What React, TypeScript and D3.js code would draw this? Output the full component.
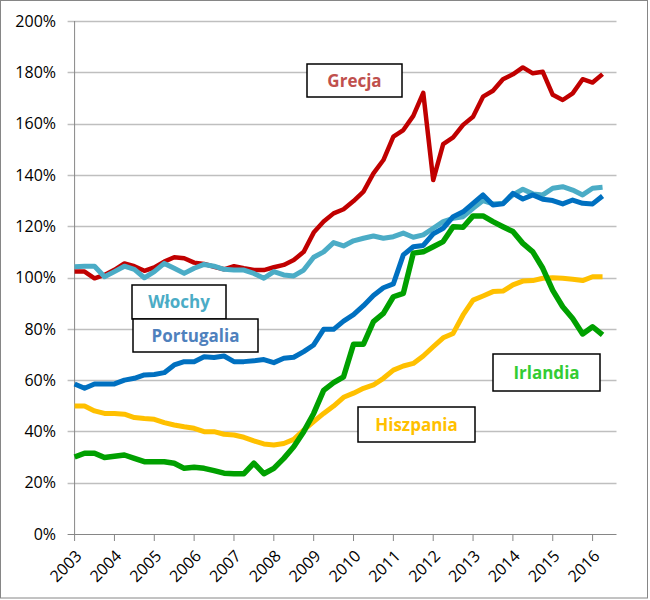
import React, { useEffect, useRef } from 'react';
import * as d3 from 'd3';

// tick labels on the x axis
const yearLabels = [2003, 2004, 2005, 2006, 2007, 2008, 2009, 2010, 2011, 2012, 2013, 2014, 2015, 2016];
const yTicks = [0, 20, 40, 60, 80, 100, 120, 140, 160, 180, 200];

// quarterly values (% of GDP), 2003Q1 .. 2016Q2
const grecja = [
  102.3, 102.3, 99.7, 101, 103, 105.5, 104.4, 102.6, 103.9, 106.2, 107.9, 107.5, 105.8, 105.3, 104.2, 103.2, 104.4,
  103.6, 102.9, 102.9, 104, 104.9, 106.8, 110,
  117.5, 121.8, 125, 126.6, 129.8, 133.5, 140.6, 145.8, 154.9, 157.5, 163, 172,
  138, 152, 154.6, 159.5, 162.7, 170.5, 172.8, 177.3, 179.2, 181.9, 179.6, 180.2, 171.2, 169.2, 171.8, 177.3, 176, 179.3
];
const wlochy = [
  104.2, 104.4, 104.4, 100.3, 102.3, 104.4, 103.2, 99.9, 102.3, 105.5, 103.6, 101.6, 103.6, 105.1, 104.4, 103.2, 102.9,
  102.9, 101.6, 99.7, 102.3, 101, 100.6, 102.9, 107.9, 110, 113.6, 112.3, 114.3, 115.3, 116.2, 115.3, 115.9, 117.3,
  115.7, 116.6, 119.2, 121.8, 123.1, 123.7, 127, 130, 128.7, 128.9, 132.2, 134.4, 132.6, 132.2, 134.8, 135.4, 134.1, 132.2, 134.8, 135.2
];
const portugalia = [
  58.5, 56.8, 58.5, 58.5, 58.5, 60, 60.7, 62, 62.2, 62.9, 65.9, 67.2, 67.2, 69.1, 68.8, 69.4, 67.2,
  67.2, 67.5, 68,
  66.8, 68.5, 68.9, 71.1, 73.7, 79.8, 79.8, 83, 85.5, 89, 93, 96, 97.5, 108.8, 112,
  112.5, 117, 119.2, 123.7, 125.6, 128.9, 132.2, 128.3, 128.7, 132.8, 130.6, 132.2, 130.5, 130, 128.7, 130.2, 128.9, 128.7, 131.8
];
const hiszpania = [
  49.9, 49.9, 48, 47, 47, 46.7, 45.4, 45, 44.7, 43.4, 42.5, 41.8, 41.2, 39.9, 39.9, 38.9, 38.6, 37.7, 36.3, 35.1, 34.7, 35.3,
  36.9, 40.5, 43.8, 47, 49.9, 53.3, 54.9, 56.8, 58.1, 60.7, 63.9, 65.5, 66.5, 69.4, 73, 76.5,
  78.2, 85.4, 91.2, 92.8, 94.5, 94.7, 97.1, 98.6, 98.8, 99.7, 99.9, 99.7, 99.3, 98.8, 100.3, 100.3
];
const irlandia = [
  30, 31.5, 31.5, 29.8, 30.3, 30.8, 29.5, 28.2, 28.2, 28.2, 27.6, 25.6, 26, 25.6, 24.7, 23.7, 23.5, 23.5, 27.6, 23.5, 25.6, 29.5,
  34, 39.9, 47, 56, 59, 61.3, 74, 74, 82.8, 86, 92.5, 93.8, 109.5, 110, 112, 114,
  119.8, 119.6, 124, 124, 121.8, 119.8, 117.9, 113.3, 110, 103.6, 95, 88.6, 84, 78, 80.8, 77.6
];

const series = [
  { name: 'Hiszpania', values: hiszpania, color: '#ffc000', width: 5, label: '#ffc000', box: [358, 407, 117, 35] },
  { name: 'Grecja', values: grecja, color: '#c00000', width: 4.5, label: '#c0504d', box: [307, 64, 95, 33] },
  { name: 'Włochy', values: wlochy, color: '#4bacc6', width: 5, label: '#4bacc6', box: [132, 285, 94, 34] },
  { name: 'Portugalia', values: portugalia, color: '#0070c0', width: 5, label: '#4f81bd', box: [133, 319, 125, 33] },
  { name: 'Irlandia', values: irlandia, color: '#00a000', width: 5.5, label: '#33cc33', box: [493, 354, 107, 37] },
];

const W = 650;
const H = 600;
const left = 74.6;
const right = 616.5;
const top = 21;
const bottom = 534;
const font = "'Open Sans', 'Noto Sans', sans-serif";

export default function App() {
  const ref = useRef<SVGSVGElement>(null);

  useEffect(() => {
    if (!ref.current) return;
    const svg = d3.select(ref.current);
    svg.selectAll('*').remove();

    const x = d3.scaleLinear().domain([2003, 2016.6]).range([left, right]);
    const y = d3.scaleLinear().domain([0, 200]).range([bottom, top]);

    svg.append('rect')
      .attr('x', 0.5).attr('y', 0.5)
      .attr('width', W - 3).attr('height', H - 2.5)
      .attr('fill', 'white').attr('stroke', '#868686');

    // horizontal grid + y ticks
    svg.append('g').selectAll('line').data(yTicks.slice(1)).enter().append('line')
      .attr('x1', left - 7).attr('x2', right)
      .attr('y1', d => Math.round(y(d)) + 0.5).attr('y2', d => Math.round(y(d)) + 0.5)
      .attr('stroke', '#bfbfbf').attr('stroke-width', 1.3);

    svg.append('g').selectAll('text').data(yTicks).enter().append('text')
      .attr('x', 56).attr('y', d => y(d))
      .attr('dy', '0.36em')
      .attr('text-anchor', 'end')
      .style('font-family', font).style('font-size', '16px').attr('fill', '#000')
      .text(d => `${d}%`);

    // axes
    svg.append('line')
      .attr('x1', left).attr('x2', left).attr('y1', top).attr('y2', bottom)
      .attr('stroke', '#868686').attr('stroke-width', 1);
    svg.append('line')
      .attr('x1', left - 7).attr('x2', right).attr('y1', bottom + 0.5).attr('y2', bottom + 0.5)
      .attr('stroke', '#868686').attr('stroke-width', 1);

    svg.append('g').selectAll('line').data(yearLabels).enter().append('line')
      .attr('x1', d => x(d)).attr('x2', d => x(d))
      .attr('y1', bottom).attr('y2', bottom + 7)
      .attr('stroke', '#868686');

    svg.append('g').selectAll('text').data(yearLabels).enter().append('text')
      .attr('transform', d => `translate(${x(d) + 4},${bottom + 19}) rotate(-45)`)
      .attr('text-anchor', 'end')
      .attr('dy', '0.36em')
      .style('font-family', font).style('font-size', '16px').attr('fill', '#000')
      .text(d => d);

    // lines
    const line = d3.line<number>()
      .x((_, i) => x(2003 + i / 4))
      .y(d => y(d));

    series.forEach(s => {
      svg.append('path')
        .datum(s.values)
        .attr('d', line)
        .attr('fill', 'none')
        .attr('stroke', s.color)
        .attr('stroke-width', s.width)
        .attr('stroke-linejoin', 'round');
    });

    // labels in boxes
    series.forEach(s => {
      const [bx, by, bw, bh] = s.box;
      svg.append('rect')
        .attr('x', bx).attr('y', by).attr('width', bw).attr('height', bh)
        .attr('fill', 'white').attr('stroke', '#000').attr('stroke-width', 1.5);
      svg.append('text')
        .attr('x', bx + bw / 2).attr('y', by + bh / 2)
        .attr('dy', '0.36em')
        .attr('text-anchor', 'middle')
        .style('font-family', font).style('font-size', '17px').style('font-weight', 'bold')
        .attr('fill', s.label)
        .text(s.name);
    });
  }, []);

  return (
    <div>
      <style>{'body{margin:0}'}</style>
      <svg ref={ref} width={W} height={H} style={{ display: 'block' }} />
    </div>
  );
}
